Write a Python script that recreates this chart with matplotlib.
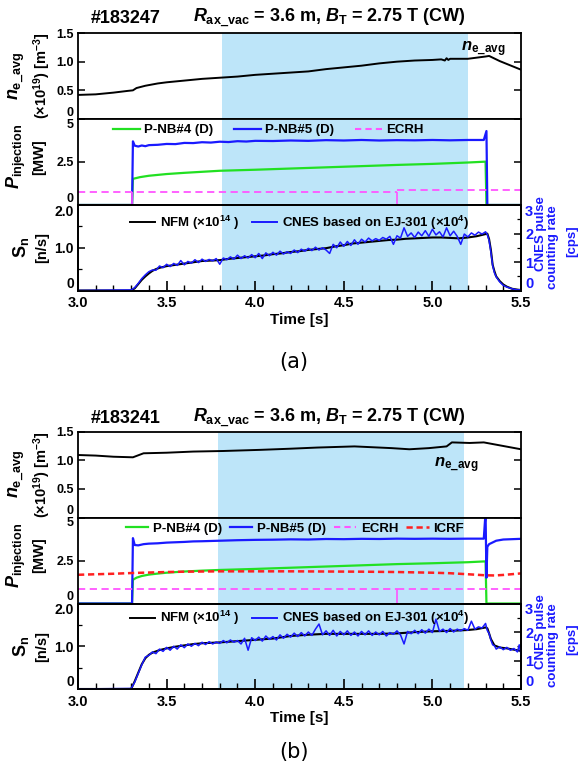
import matplotlib
matplotlib.use('Agg')
import matplotlib.pyplot as plt
from matplotlib.lines import Line2D
from matplotlib.transforms import blended_transform_factory
from matplotlib.ticker import MultipleLocator

plt.rcParams.update({
    'font.family': ['Liberation Sans', 'DejaVu Sans'],
    'font.weight': 'bold',
    'axes.labelweight': 'bold',
    'mathtext.fontset': 'custom',
    'mathtext.rm': 'Liberation Sans:bold',
    'mathtext.it': 'Liberation Sans:italic:bold',
    'mathtext.bf': 'Liberation Sans:bold',
    'axes.linewidth': 1.3,
})

# ---------------- data: panel (a) #183247 ----------------
shot_a = '#183247'
shade_a = [3.81, 5.20]
ne_a_t = [3.00, 3.10, 3.20, 3.28, 3.31, 3.33, 3.38, 3.45, 3.50, 3.60, 3.70, 3.80, 3.90, 4.00,
          4.10, 4.20, 4.30, 4.40, 4.50, 4.60, 4.70, 4.80, 4.90, 5.00, 5.05, 5.07, 5.08, 5.09,
          5.10, 5.20, 5.25, 5.30, 5.32, 5.34, 5.38, 5.42, 5.46, 5.50]
ne_a_v = [0.42, 0.43, 0.46, 0.49, 0.50, 0.54, 0.58, 0.62, 0.64, 0.67, 0.70, 0.72, 0.74, 0.77,
          0.79, 0.81, 0.83, 0.87, 0.90, 0.93, 0.97, 1.00, 1.02, 1.03, 1.04, 1.02, 1.06, 1.03,
          1.05, 1.05, 1.07, 1.09, 1.10, 1.07, 1.01, 0.96, 0.91, 0.86]
nb4_a_t = [3.00, 3.305, 3.31, 3.35, 3.40, 3.50, 3.60, 3.70, 3.80, 4.00, 4.20, 4.40, 4.60, 4.80,
           5.00, 5.20, 5.30, 5.305, 5.50]
nb4_a_v = [0.0, 0.0, 1.52, 1.62, 1.70, 1.80, 1.87, 1.93, 1.99, 2.05, 2.12, 2.19, 2.26, 2.33,
           2.39, 2.47, 2.52, 0.0, 0.0]
nb5_a_t = [3.00, 3.305, 3.31, 3.32, 3.34, 3.36, 3.38, 3.40, 3.45, 3.50, 3.55, 3.60, 3.65, 3.70,
           3.75, 3.80, 3.85, 3.90, 3.95, 4.00, 4.10, 4.20, 4.30, 4.40, 4.50, 4.60, 4.70, 4.80,
           4.90, 5.00, 5.10, 5.20, 5.29, 5.305, 5.31, 5.50]
nb5_a_v = [0.0, 0.0, 3.70, 3.45, 3.40, 3.46, 3.42, 3.48, 3.50, 3.55, 3.54, 3.61, 3.60, 3.65,
           3.63, 3.68, 3.66, 3.71, 3.69, 3.73, 3.72, 3.75, 3.73, 3.77, 3.75, 3.78, 3.75, 3.77,
           3.76, 3.78, 3.76, 3.78, 3.78, 4.30, 0.0, 0.0]
ecrh_a_t1 = [3.00, 4.80]
ecrh_a_v1 = [0.78, 0.78]
ecrh_a_t2 = [4.80, 5.50]
ecrh_a_v2 = [0.87, 0.87]
ecrh_a_step_t = [3.305, 4.80]
ecrh_a_step_v = [0.78, 0.78]
nfm_a_t = [3.00, 3.30, 3.32, 3.34, 3.36, 3.38, 3.40, 3.42, 3.44, 3.46, 3.48, 3.50, 3.55, 3.60,
           3.65, 3.70, 3.75, 3.80, 3.85, 3.90, 3.95, 4.00, 4.05, 4.10, 4.15, 4.20, 4.25, 4.30,
           4.35, 4.40, 4.45, 4.50, 4.55, 4.60, 4.65, 4.70, 4.75, 4.80, 4.85, 4.90, 4.95, 5.00,
           5.05, 5.10, 5.15, 5.20, 5.25, 5.30, 5.31, 5.32, 5.33, 5.34, 5.35, 5.36, 5.38, 5.40,
           5.42, 5.45, 5.48, 5.50]
nfm_a_v = [0.00, 0.00, 0.05, 0.15, 0.25, 0.33, 0.40, 0.46, 0.50, 0.53, 0.55, 0.57, 0.60, 0.63,
           0.66, 0.69, 0.70, 0.71, 0.74, 0.76, 0.78, 0.80, 0.82, 0.85, 0.87, 0.90, 0.92, 0.95,
           0.97, 0.99, 1.03, 1.06, 1.10, 1.12, 1.14, 1.16, 1.18, 1.19, 1.21, 1.22, 1.23, 1.24,
           1.24, 1.23, 1.22, 1.24, 1.27, 1.32, 1.33, 1.20, 0.95, 0.60, 0.45, 0.33, 0.22, 0.14,
           0.09, 0.04, 0.02, 0.01]
cnes_a_t = [3.00,
            3.30, 3.32, 3.34, 3.36, 3.38, 3.40, 3.42, 3.44, 3.46, 3.48,
            3.50, 3.52, 3.54, 3.56, 3.58, 3.60, 3.62, 3.64, 3.66, 3.68,
            3.70, 3.72, 3.74, 3.76, 3.78, 3.80, 3.82, 3.84, 3.86, 3.88,
            3.90, 3.92, 3.94, 3.96, 3.98, 4.00, 4.02, 4.04, 4.06, 4.08,
            4.10, 4.12, 4.14, 4.16, 4.18, 4.20, 4.22, 4.24, 4.26, 4.28,
            4.30, 4.32, 4.34, 4.36, 4.38, 4.40, 4.42, 4.44, 4.46, 4.48,
            4.50, 4.52, 4.54, 4.56, 4.58, 4.60, 4.62, 4.64, 4.66, 4.68,
            4.70, 4.72, 4.74, 4.76, 4.78, 4.80, 4.82, 4.84, 4.86, 4.88,
            4.90, 4.92, 4.94, 4.96, 4.98, 5.00, 5.02, 5.04, 5.06, 5.08,
            5.10, 5.12, 5.14, 5.16, 5.18, 5.20, 5.22, 5.24, 5.26, 5.28,
            5.30, 5.31, 5.32, 5.33, 5.34, 5.35, 5.36, 5.38, 5.40, 5.42, 5.45, 5.48, 5.50]
cnes_a_v = [0.00,
            0.02, 0.10, 0.25, 0.42, 0.55, 0.66, 0.72, 0.71, 0.86, 0.80,
            0.92, 0.84, 0.95, 0.88, 1.05, 0.90, 1.02, 0.96, 1.08, 0.98,
            1.10, 1.02, 1.09, 1.04, 1.12, 0.92, 1.14, 1.08, 1.18, 1.10,
            1.24, 1.12, 1.22, 1.14, 1.26, 1.15, 1.30, 1.12, 1.32, 1.22,
            1.34, 1.24, 1.38, 1.28, 1.36, 1.30, 1.42, 1.33, 1.45, 1.38,
            1.48, 1.40, 1.52, 1.42, 1.50, 1.42, 1.30, 1.62, 1.50, 1.70,
            1.55, 1.72, 1.58, 1.78, 1.62, 1.80, 1.70, 1.84, 1.74, 1.82,
            1.76, 1.86, 1.80, 1.90, 1.62, 1.92, 1.84, 2.20, 1.90, 2.02,
            1.86, 2.05, 1.92, 2.10, 1.90, 2.15, 1.95, 2.06, 1.88, 2.20,
            1.92, 2.08, 1.90, 1.62, 1.98, 1.88, 2.02, 1.94, 2.05, 1.98,
            2.06, 1.96, 1.75, 1.35, 0.88, 0.62, 0.48, 0.30, 0.18, 0.12, 0.06, 0.02, 0.03]

# ---------------- data: panel (b) #183241 ----------------
shot_b = '#183241'
shade_b = [3.79, 5.18]
ne_b_t = [3.00, 3.10, 3.20, 3.31, 3.37, 3.50, 3.65, 3.82, 4.03, 4.20, 4.35, 4.56, 4.77, 4.87,
          4.98, 5.08, 5.11, 5.21, 5.29, 5.36, 5.43, 5.50]
ne_b_v = [1.09, 1.08, 1.06, 1.05, 1.12, 1.13, 1.15, 1.16, 1.18, 1.20, 1.22, 1.24, 1.21, 1.19,
          1.21, 1.24, 1.31, 1.30, 1.31, 1.27, 1.23, 1.19]
nb4_b_t = [3.00, 3.305, 3.31, 3.33, 3.36, 3.40, 3.45, 3.50, 3.60, 3.70, 3.80, 4.00, 4.20, 4.40,
           4.60, 4.80, 5.00, 5.20, 5.30, 5.305, 5.50]
nb4_b_v = [0.0, 0.0, 1.38, 1.50, 1.60, 1.68, 1.74, 1.79, 1.86, 1.91, 1.95, 2.01, 2.08, 2.15,
           2.22, 2.29, 2.34, 2.40, 2.45, 0.0, 0.0]
nb5_b_t = [3.00, 3.305, 3.31, 3.32, 3.34, 3.37, 3.40, 3.45, 3.50, 3.55, 3.60, 3.65, 3.70, 3.80,
           3.90, 4.00, 4.10, 4.20, 4.30, 4.40, 4.50, 4.60, 4.70, 4.80, 4.90, 5.00, 5.10, 5.20,
           5.29, 5.30, 5.305, 5.31, 5.32, 5.34, 5.36, 5.40, 5.45, 5.50]
nb5_b_v = [0.0, 0.0, 3.80, 3.40, 3.38, 3.45, 3.48, 3.50, 3.54, 3.56, 3.58, 3.61, 3.62, 3.65,
           3.68, 3.70, 3.71, 3.73, 3.72, 3.75, 3.74, 3.76, 3.75, 3.77, 3.76, 3.77, 3.76, 3.77,
           3.77, 5.30, 1.50, 3.30, 3.45, 3.55, 3.65, 3.72, 3.74, 3.76]
icrf_b_t = [3.00, 3.10, 3.20, 3.30, 3.40, 3.50, 3.60, 3.80, 4.00, 4.20, 4.40, 4.60, 4.80, 5.00,
            5.10, 5.20, 5.30, 5.35, 5.40, 5.50]
icrf_b_v = [1.67, 1.70, 1.73, 1.77, 1.80, 1.83, 1.85, 1.87, 1.87, 1.87, 1.86, 1.85, 1.83, 1.79,
            1.76, 1.70, 1.64, 1.63, 1.66, 1.75]
ecrh_b_t1 = [3.00, 4.80]
ecrh_b_v1 = [0.82, 0.82]
ecrh_b_t2 = [4.80, 5.50]
ecrh_b_v2 = [0.82, 0.82]
ecrh_b_step_t = [4.80]
ecrh_b_step_v = [0.82]
nfm_b_t = [3.00, 3.30, 3.32, 3.34, 3.36, 3.38, 3.40, 3.42, 3.44, 3.46, 3.50, 3.55, 3.60, 3.65,
           3.70, 3.75, 3.80, 3.90, 4.00, 4.10, 4.20, 4.30, 4.40, 4.50, 4.60, 4.70, 4.80, 4.90,
           5.00, 5.10, 5.20, 5.25, 5.30, 5.31, 5.32, 5.33, 5.35, 5.38, 5.42, 5.46, 5.50]
nfm_b_v = [0.00, 0.00, 0.18, 0.38, 0.58, 0.72, 0.80, 0.85, 0.88, 0.91, 0.95, 0.99, 1.02, 1.05,
           1.07, 1.08, 1.09, 1.12, 1.15, 1.18, 1.24, 1.27, 1.29, 1.29, 1.29, 1.29, 1.30, 1.33,
           1.35, 1.36, 1.38, 1.40, 1.44, 1.42, 1.30, 1.17, 1.02, 0.97, 0.95, 0.92, 0.89]
cnes_b_t = [3.00,
            3.30, 3.32, 3.34, 3.36, 3.38, 3.40, 3.42, 3.44, 3.46, 3.48,
            3.50, 3.52, 3.54, 3.56, 3.58, 3.60, 3.62, 3.64, 3.66, 3.68,
            3.70, 3.72, 3.74, 3.76, 3.78, 3.80, 3.82, 3.84, 3.86, 3.88,
            3.90, 3.92, 3.94, 3.96, 3.98, 4.00, 4.02, 4.04, 4.06, 4.08,
            4.10, 4.12, 4.14, 4.16, 4.18, 4.20, 4.22, 4.24, 4.26, 4.28,
            4.30, 4.32, 4.34, 4.36, 4.38, 4.40, 4.42, 4.44, 4.46, 4.48,
            4.50, 4.52, 4.54, 4.56, 4.58, 4.60, 4.62, 4.64, 4.66, 4.68,
            4.70, 4.72, 4.74, 4.76, 4.78, 4.80, 4.82, 4.84, 4.86, 4.88,
            4.90, 4.92, 4.94, 4.96, 4.98, 5.00, 5.02, 5.04, 5.06, 5.08,
            5.10, 5.12, 5.14, 5.16, 5.18, 5.20, 5.22, 5.24, 5.26, 5.28,
            5.30, 5.31, 5.32, 5.33, 5.34, 5.35, 5.36, 5.38, 5.40, 5.42, 5.44, 5.46, 5.48, 5.49, 5.50]
cnes_b_v = [0.00,
            0.02, 0.24, 0.55, 0.85, 1.12, 1.18, 1.30, 1.24, 1.40, 1.32,
            1.46, 1.36, 1.50, 1.40, 1.55, 1.45, 1.58, 1.50, 1.60, 1.52,
            1.64, 1.56, 1.66, 1.58, 1.65, 1.60, 1.70, 1.62, 1.72, 1.64,
            1.70, 1.58, 1.78, 1.36, 1.80, 1.70, 1.82, 1.68, 1.86, 1.74,
            1.84, 1.72, 1.90, 1.78, 1.92, 1.82, 1.96, 1.84, 1.98, 1.86,
            2.00, 1.88, 2.10, 2.28, 1.90, 2.04, 1.88, 2.06, 1.86, 2.02,
            1.90, 2.04, 1.88, 2.00, 1.86, 2.02, 1.90, 2.04, 1.88, 2.00,
            1.90, 2.02, 1.86, 1.98, 1.92, 2.04, 1.90, 1.58, 2.02, 1.94,
            2.06, 1.94, 2.08, 1.96, 2.10, 1.98, 2.45, 2.02, 2.10, 1.98,
            2.12, 2.00, 2.10, 2.04, 2.12, 2.06, 2.38, 2.10, 2.18, 2.14,
            2.30, 2.05, 1.95, 1.72, 1.55, 1.52, 1.40, 1.48, 1.38, 1.46, 1.36, 1.42, 1.30, 1.55, 1.22]

x_ticks = [3.0, 3.5, 4.0, 4.5, 5.0, 5.5]

# ---------------- style ----------------
SHADE = '#bde5f9'
GREEN = '#22e022'
BLUE = '#1a1aff'
MAGENTA = '#ff55ff'
RED = '#ff2020'
W, H = 581, 771
L, AW = 78, 443

fig = plt.figure(figsize=(W / 100, H / 100), dpi=100)


def ax_at(top, h):
    return fig.add_axes([L / W, 1 - (top + h) / H, AW / W, h / H])


def style_x(ax, labels):
    ax.set_xlim(3.0, 5.5)
    ax.set_xticks(x_ticks)
    ax.xaxis.set_minor_locator(MultipleLocator(0.1))
    if labels:
        ax.set_xticklabels(['%.1f' % v for v in x_ticks], fontweight='bold')
        ax.tick_params(axis='x', which='major', direction='in', length=7, width=1.2,
                       labelsize=10.5, pad=4)
        ax.tick_params(axis='x', which='minor', direction='in', length=4, width=1.0)
    else:
        ax.tick_params(axis='x', which='both', length=0, labelbottom=False)


def style_y(ax, lim, ticks, labels, size, minor=None, right=True, color='black'):
    ax.set_ylim(*lim)
    ax.set_yticks(ticks)
    ax.set_yticklabels(labels, fontweight='bold')
    if minor:
        ax.yaxis.set_minor_locator(MultipleLocator(minor))
    ax.tick_params(axis='y', which='major', direction='in', length=5, width=1.1,
                   labelsize=size, pad=3, right=right, labelcolor=color)
    ax.tick_params(axis='y', which='minor', direction='in', length=3, width=0.9, right=right)
    return ax.get_yticklabels()


def ylab(ax, xpx, s, size, color='black', dy=0.0):
    tr = blended_transform_factory(fig.transFigure, ax.transAxes)
    fig.text(xpx / W, 0.5 + dy, s, transform=tr, rotation=90, ha='center', va='center',
             fontsize=size, color=color)


def panel(top, base_y, tag_y, shot, shade, ne_t, ne_v, ne_lab_xy, nb4_t, nb4_v, nb5_t, nb5_v,
          ecrh1, ecrh2, ecrh_step, icrf, nfm_t, nfm_v, cnes_t, cnes_v, tag, leg):
    # title
    fig.text(91 / W, 1 - base_y / H, shot, fontsize=13, va='baseline', ha='left')
    fig.text(193 / W, 1 - base_y / H, r'$R_{\rm ax\_vac}$ = 3.6 m, $B_{\rm T}$ = 2.75 T (CW)',
             fontsize=13, va='baseline', ha='left')

    # density
    ax1 = ax_at(top, 86)
    ax1.axvspan(shade[0], shade[1], color=SHADE, lw=0, zorder=0)
    ax1.plot(ne_t, ne_v, color='black', lw=1.4)
    style_x(ax1, False)
    tl = style_y(ax1, (0, 1.5), [0, 0.5, 1.0, 1.5], ['0', '0.5', '1.0', '1.5'], 9)
    tl[0].set_va('bottom')
    ax1.text(ne_lab_xy[0], ne_lab_xy[1], r'$n_{\rm e\_avg}$', fontsize=12, ha='left', va='center')
    ylab(ax1, 17, r'$n_{\rm e\_avg}$', 13)
    ylab(ax1, 42, r'(×10$^{19}$) [m$^{-3}$]', 10.5)

    # power
    ax2 = ax_at(top + 86, 86)
    ax2.axvspan(shade[0], shade[1], color=SHADE, lw=0, zorder=0)
    ax2.plot(nb4_t, nb4_v, color=GREEN, lw=1.6)
    ax2.plot(nb5_t, nb5_v, color=BLUE, lw=1.6)
    ax2.plot(ecrh1[0], ecrh1[1], color=MAGENTA, lw=1.3, ls=(0, (4, 2.5)))
    ax2.plot(ecrh2[0], ecrh2[1], color=MAGENTA, lw=1.3, ls=(0, (4, 2.5)))
    ax2.vlines(ecrh_step[0], 0, ecrh_step[1], color=MAGENTA, lw=1.2)
    handles = [Line2D([], [], color=GREEN, lw=1.6), Line2D([], [], color=BLUE, lw=1.6),
               Line2D([], [], color=MAGENTA, lw=1.5, ls=(0, (3, 2)))]
    labels = ['P-NB#4 (D)', 'P-NB#5 (D)', 'ECRH']
    if icrf is not None:
        ax2.plot(icrf[0], icrf[1], color=RED, lw=1.8, ls=(0, (2.5, 1.5)))
        handles.append(Line2D([], [], color=RED, lw=1.8, ls=(0, (2.5, 1.5))))
        labels.append('ICRF')
    style_x(ax2, False)
    tl = style_y(ax2, (0, 5), [0, 2.5, 5], ['0', '2.5', '5'], 9)
    tl[0].set_va('bottom')
    tl[-1].set_va('top')
    ax2.legend(handles, labels, ncol=len(labels), loc='center', bbox_to_anchor=(leg[0], leg[1]),
               frameon=False, fontsize=9.5, handlelength=leg[2], handletextpad=0.35,
               columnspacing=leg[3], borderaxespad=0)
    ylab(ax2, 16, r'$P_{\rm injection}$', 13, dy=0.06)
    ylab(ax2, 39, '[MW]', 10.5, dy=0.06)

    # neutron
    ax3 = ax_at(top + 172, 85.5)
    ax3.axvspan(shade[0], shade[1], color=SHADE, lw=0, zorder=0)
    ax3.plot(nfm_t, nfm_v, color='black', lw=1.5)
    style_x(ax3, True)
    tl = style_y(ax3, (0, 2), [0, 1.0, 2.0], ['0', '1.0', '2.0'], 10, minor=0.5, right=False)
    tl[0].set_va('bottom')
    tl[-1].set_va('top')
    ax3.set_xlabel('Time [s]', fontsize=11, labelpad=2)
    axr = ax3.twinx()
    axr.plot(cnes_t, cnes_v, color=BLUE, lw=1.1)
    tr = style_y(axr, (0, 3), [0, 1, 2, 3], ['0', '1', '2', '3'], 10.5, minor=0.5,
                 color=BLUE)
    axr.tick_params(axis='y', which='both', left=False, right=True)
    tr[0].set_va('bottom')
    tr[-1].set_va('top')
    axr.legend([Line2D([], [], color='black', lw=1.4), Line2D([], [], color=BLUE, lw=1.4)],
               [r'NFM (×10$^{14}$ )', r'CNES based on EJ-301 (×10$^{4}$)'], ncol=2,
               loc='center', bbox_to_anchor=(0.5, leg[4]), frameon=False, fontsize=9.5,
               handlelength=1.9, handletextpad=0.35, columnspacing=1.0, borderaxespad=0)
    ylab(ax3, 21, r'S$_{\rm n}$', 13)
    ylab(ax3, 42, '[n/s]', 10.5)
    tr2 = blended_transform_factory(fig.transFigure, ax3.transAxes)
    for xp, s, yc in [(541, 'CNES pulse', 0.67), (553, 'counting rate', 0.51), (572, '[cps]', 0.58)]:
        fig.text(xp / W, yc, s, transform=tr2, rotation=90, ha='center', va='center',
                 fontsize=9.5, color=BLUE)
    fig.text(294 / W, 1 - tag_y / H, tag, fontsize=15, ha='center', va='center',
             family='DejaVu Sans', fontweight='normal')


panel(33, 23, 362, shot_a, shade_a, ne_a_t, ne_a_v, (5.16, 1.22), nb4_a_t, nb4_a_v, nb5_a_t,
      nb5_a_v, (ecrh_a_t1, ecrh_a_v1), (ecrh_a_t2, ecrh_a_v2), (ecrh_a_step_t, ecrh_a_step_v),
      None, nfm_a_t, nfm_a_v, cnes_a_t, cnes_a_v, '(a)', (0.43, 0.87, 2.0, 1.6, 0.79))
panel(431.5, 423, 752, shot_b, shade_b, ne_b_t, ne_b_v, (5.01, 0.92), nb4_b_t, nb4_b_v, nb5_b_t,
      nb5_b_v, (ecrh_b_t1, ecrh_b_v1), (ecrh_b_t2, ecrh_b_v2), (ecrh_b_step_t, ecrh_b_step_v),
      (icrf_b_t, icrf_b_v), nfm_b_t, nfm_b_v, cnes_b_t, cnes_b_v, '(b)', (0.49, 0.87, 1.7, 0.6, 0.83))

fig.savefig('out.png', dpi=100)
